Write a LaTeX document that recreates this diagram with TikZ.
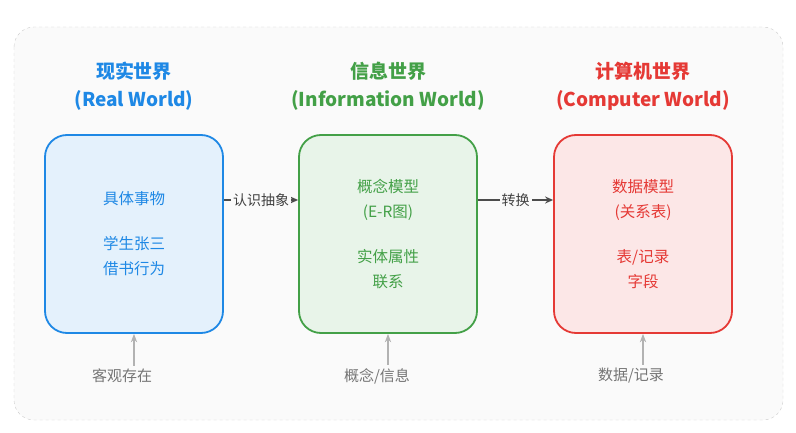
\documentclass[tikz,border=0pt]{standalone}
\usepackage{fontspec}
\setmainfont{Noto Sans CJK SC}
\usetikzlibrary{arrows.meta, positioning}
\definecolor{realc}{HTML}{1E88E5}
\definecolor{infoc}{HTML}{43A047}
\definecolor{compc}{HTML}{E53935}
\definecolor{notec}{HTML}{757575}
\begin{document}
\begin{tikzpicture}[x=1pt, y=-1pt,
  >=Stealth,
  world/.style={draw, rounded corners=22pt, line width=1.8pt, minimum width=178pt, minimum height=198pt, align=center, font=\fontsize{15.5}{25}\selectfont},
  title/.style={align=center, font=\fontsize{19}{28}\selectfont\bfseries},
  note/.style={text=notec, font=\fontsize{15}{18}\selectfont},
  flow/.style={-{Stealth[length=8pt,width=7pt]}, line width=1.6pt, black!70},
  up/.style={->, line width=1.2pt, black!30}
]
\useasboundingbox (0,0) rectangle (796,433);
\draw[dashed, black!20, fill=black!2, rounded corners=20pt] (14,27) rectangle (783,420);

% three worlds
\node[world, draw=realc, fill=realc!12, text=realc] (Real) at (134,234) {具体事物\\[20pt]学生张三\\借书行为};
\node[world, draw=infoc, fill=infoc!12, text=infoc] (Info) at (388,234) {概念模型\\(E-R图)\\[20pt]实体属性\\联系};
\node[world, draw=compc, fill=compc!12, text=compc] (Comp) at (643,234) {数据模型\\(关系表)\\[20pt]表/记录\\字段};

% titles
\node[title, text=realc, above=20pt of Real] {现实世界\\(Real World)};
\node[title, text=infoc, above=20pt of Info] {信息世界\\(Information World)};
\node[title, text=compc, above=20pt of Comp] {计算机世界\\(Computer World)};

% transitions
\draw[flow] (Real.east |- 0,200) -- (Info.west |- 0,200) node[midway, fill=black!2, inner sep=2pt, font=\fontsize{14}{16}\selectfont, text=black!75]{认识抽象};
\draw[flow] (Info.east |- 0,200) -- (Comp.west |- 0,200) node[midway, fill=black!2, inner sep=2pt, font=\fontsize{14}{16}\selectfont, text=black!75]{转换};

% notes
\node[note] (N1) at (122,376) {客观存在};
\node[note] (N2) at (377,376) {概念/信息};
\node[note] (N3) at (631,376) {数据/记录};
\draw[up] (N1.north -| Real) -- (Real);
\draw[up] (N2.north -| Info) -- (Info);
\draw[up] (N3.north -| Comp) -- (Comp);
\end{tikzpicture}
\end{document}
